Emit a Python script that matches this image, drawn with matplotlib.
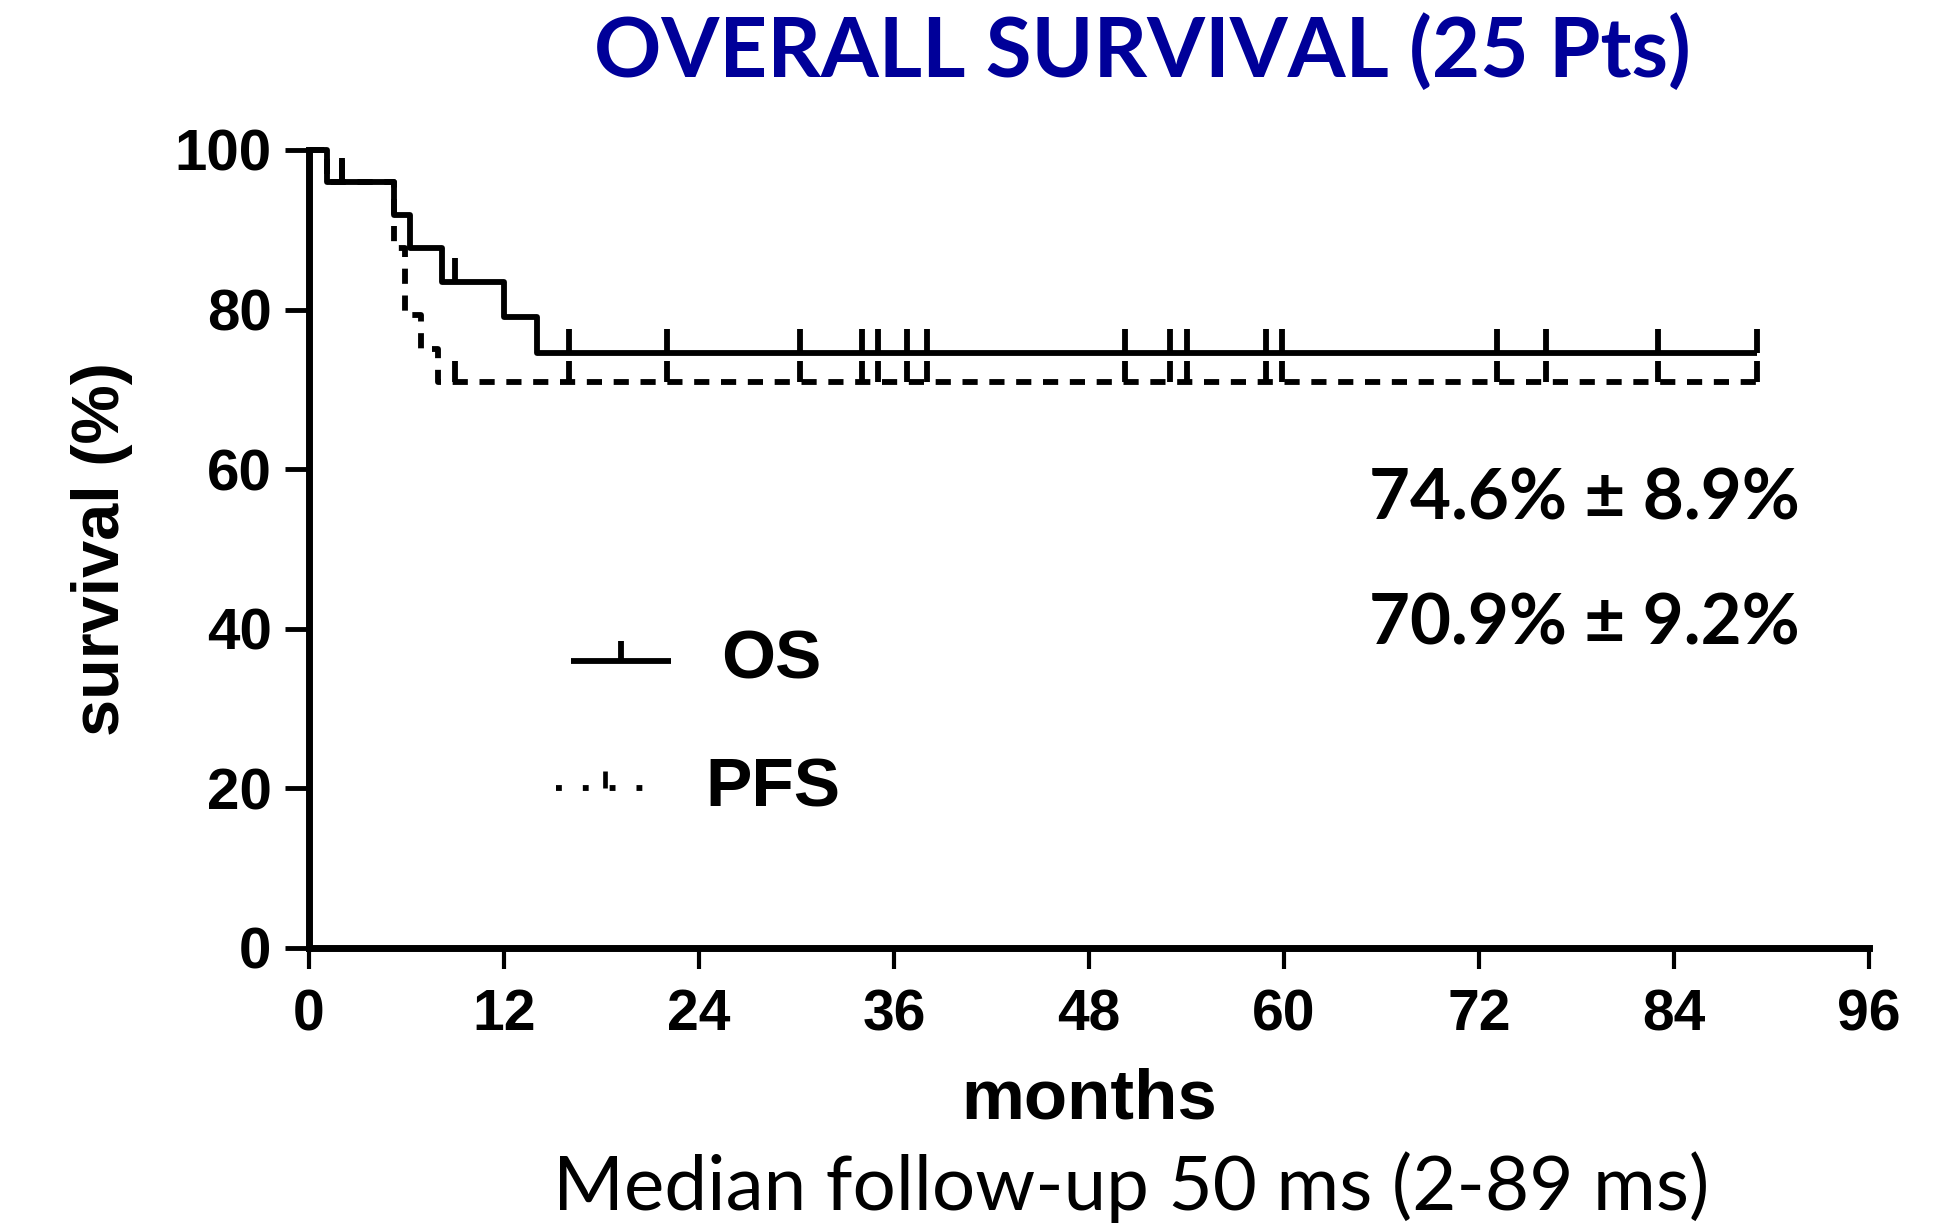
import matplotlib
matplotlib.use("Agg")
import matplotlib.pyplot as plt
import numpy as np

# ---- data ----
os_event_times = [0, 1.1, 5.2, 6.2, 8.2, 12.0, 14.0]
os_values = [100, 96.0, 91.8, 87.65, 83.5, 79.1, 74.6]
os_end = 89.1

pfs_event_times = [0, 1.1, 5.2, 5.9, 6.9, 7.95]
pfs_values = [100, 96.0, 87.65, 79.3, 75.1, 70.9]
pfs_end = 89.1

censor_times = [2.0, 9.0, 16.0, 22.0, 30.2, 34.0, 35.0, 36.8, 38.0, 50.2,
                53.0, 54.0, 58.9, 59.9, 73.1, 76.1, 83.0, 89.1]

x_ticks = [0, 12, 24, 36, 48, 60, 72, 84, 96]
y_ticks = [0, 20, 40, 60, 80, 100]

title = "OVERALL SURVIVAL (25 Pts)"
os_label = "74.6% ± 8.9%"
pfs_label = "70.9% ± 9.2%"
footer = "Median follow-up 50 ms (2-89 ms)"


def step_value(times, vals, t):
    idx = np.searchsorted(times, t, side="right") - 1
    return vals[idx]


fig = plt.figure(figsize=(19.6, 12.26), dpi=100)
ax = fig.add_axes([0.1577, 0.2268, 0.7959, 0.6509])

lw = 4.2
# OS curve
xs = list(os_event_times) + [os_end]
ys = list(os_values) + [os_values[-1]]
ax.step(xs, ys, where="post", color="black", lw=lw, clip_on=False,
        solid_capstyle="butt", zorder=3)
# PFS curve
xs = list(pfs_event_times) + [pfs_end]
ys = list(pfs_values) + [pfs_values[-1]]
ax.step(xs, ys, where="post", color="black", lw=lw, clip_on=False,
        linestyle=(0, (2.6, 2.0)), dash_capstyle="butt", zorder=3)

tick_h = 3.0
for t in censor_times:
    yo = step_value(os_event_times, os_values, t)
    ax.plot([t, t], [yo, yo + tick_h], color="black", lw=lw,
            solid_capstyle="butt", clip_on=False, zorder=3)
    yp = step_value(pfs_event_times, pfs_values, t)
    ax.plot([t, t], [yp, yp + tick_h * 0.9], color="black", lw=lw,
            solid_capstyle="butt", clip_on=False, zorder=3)

ax.set_xlim(0, 96)
ax.set_ylim(0, 100)
for s in ["top", "right"]:
    ax.spines[s].set_visible(False)
for s in ["left", "bottom"]:
    ax.spines[s].set_linewidth(5)
ax.set_xticks(x_ticks)
ax.set_yticks(y_ticks)
ax.tick_params(axis="x", direction="out", length=15, width=3, pad=14)
ax.tick_params(axis="y", direction="out", length=17, width=3.5, pad=10)
for lab in ax.get_xticklabels():
    lab.set_fontfamily("Liberation Sans")
    lab.set_fontweight("bold")
    lab.set_fontsize(41)
for lab in ax.get_yticklabels():
    lab.set_fontfamily("Liberation Sans")
    lab.set_fontweight("bold")
    lab.set_fontsize(42)

ax.set_xlabel("months", fontfamily="Liberation Sans", fontweight="bold",
              fontsize=51, labelpad=18)
ax.set_ylabel("survival (%)", fontfamily="Liberation Sans", fontweight="bold",
              fontsize=48, labelpad=30)

# legend (manual)
ax.plot([0.168, 0.232], [0.36, 0.36], transform=ax.transAxes, color="black",
        lw=lw, solid_capstyle="butt")
ax.plot([0.2, 0.2], [0.36, 0.385], transform=ax.transAxes, color="black",
        lw=lw, solid_capstyle="butt")
ax.text(0.264, 0.36, "OS", transform=ax.transAxes, fontfamily="Liberation Sans",
        fontweight="bold", fontsize=50, va="center", ha="left")
ax.plot([0.158, 0.216], [0.2, 0.2], transform=ax.transAxes, color="black",
        lw=lw, linestyle=(0, (1.0, 3.6)), dash_capstyle="butt")
ax.plot([0.190, 0.190], [0.2, 0.222], transform=ax.transAxes, color="black",
        lw=lw * 0.8, solid_capstyle="butt")
ax.text(0.254, 0.2, "PFS", transform=ax.transAxes, fontfamily="Liberation Sans",
        fontweight="bold", fontsize=50, va="center", ha="left")

# annotations
fig.text(1369 / 1960, 1 - 499 / 1226, os_label, fontfamily="Lato",
         fontweight="bold", fontsize=51, va="center", ha="left")
fig.text(1369 / 1960, 1 - 624 / 1226, pfs_label, fontfamily="Lato",
         fontweight="bold", fontsize=51, va="center", ha="left")

fig.text(1142 / 1960, 1 - 52 / 1226, title, fontfamily="Lato", fontweight="bold",
         fontsize=60, color="#000099", va="center", ha="center")
fig.text(1131 / 1960, 3 / 1226, footer, fontfamily="Lato",
         fontsize=55, color="black", va="bottom", ha="center")

fig.savefig("out.png", dpi=100, facecolor="white")
